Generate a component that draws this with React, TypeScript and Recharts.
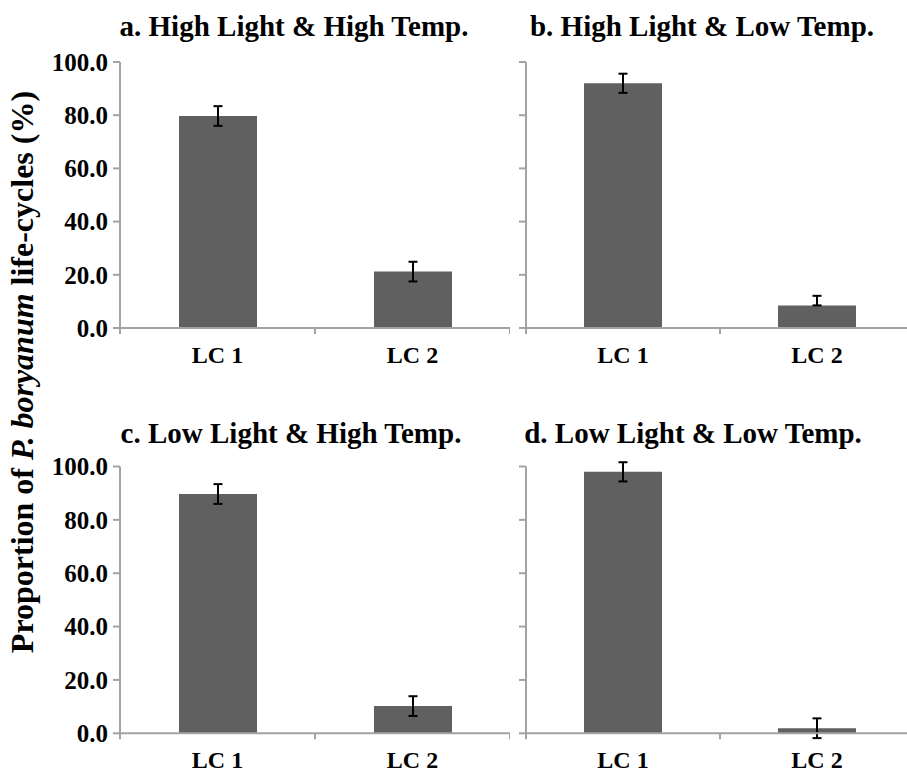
import { BarChart, Bar, XAxis, YAxis, ErrorBar } from "recharts";

const categories = ["LC 1", "LC 2"];
const yTicks = [0, 20, 40, 60, 80, 100];

const titles = [
  "a. High Light & High Temp.",
  "b. High Light & Low Temp.",
  "c. Low Light & High Temp.",
  "d. Low Light & Low Temp.",
];

// mittelwerte (%) je Lebenszyklus
const meanA = [79.7, 21.2];
const meanB = [92.0, 8.5];
const meanC = [89.7, 10.2];
const meanD = [98.0, 1.9];

// fehlerbalken; bei b/LC 2 ist nur der obere Teil zu sehen
const errA = [3.7, 3.7];
const errB: Array<number | number[]> = [3.6, [0, 3.6]];
const errC = [3.7, 3.7];
const errD = [3.6, 3.7];

const FONT = "'Liberation Serif', 'Times New Roman', serif";
const AXIS = "#a3a3a3";
const BAR = "#606060";

const rows = (means: number[], errs: Array<number | number[]>) =>
  categories.map((c, i) => ({ name: c, value: means[i], err: errs[i] }));

function BandTick(props: any) {
  const { x, y, payload, index, halfBand, count } = props;
  return (
    <g>
      <line x1={x - halfBand} y1={y} x2={x - halfBand} y2={y + 6} stroke={AXIS} strokeWidth={2} />
      {index === count - 1 && (
        <line x1={x + halfBand} y1={y} x2={x + halfBand} y2={y + 6} stroke={AXIS} strokeWidth={2} />
      )}
      <text x={x} y={y + 35} textAnchor="middle" fontFamily={FONT} fontWeight="bold" fontSize={24} fill="#000">
        {payload.value}
      </text>
    </g>
  );
}

function Panel({
  data,
  left,
  top,
  width,
  height,
  plotTop,
  plotBottom,
  yWidth,
  labels,
}: {
  data: any[];
  left: number;
  top: number;
  width: number;
  height: number;
  plotTop: number;
  plotBottom: number;
  yWidth: number;
  labels: boolean;
}) {
  const plotW = width - yWidth;
  return (
    <div style={{ position: "absolute", left, top }}>
      <BarChart
        width={width}
        height={height}
        data={data}
        margin={{ top: plotTop, right: 0, bottom: 0, left: 0 }}
        barCategoryGap="30%"
      >
        <XAxis
          dataKey="name"
          height={height - plotBottom}
          axisLine={{ stroke: AXIS, strokeWidth: 2 }}
          tickLine={false}
          tickSize={0}
          tickMargin={0}
          interval={0}
          tick={<BandTick halfBand={plotW / 4} count={data.length} />}
        />
        <YAxis
          width={yWidth}
          domain={[0, 100]}
          ticks={yTicks}
          allowDataOverflow
          interval={0}
          axisLine={{ stroke: AXIS, strokeWidth: 2 }}
          tickLine={{ stroke: AXIS, strokeWidth: 2 }}
          tickSize={7}
          tickMargin={5}
          tickFormatter={(v: number) => (labels ? v.toFixed(1) : "")}
          tick={{ fill: "#000", fontFamily: FONT, fontWeight: "bold", fontSize: 25 }}
        />
        <Bar dataKey="value" fill={BAR} barSize={78} isAnimationActive={false}>
          <ErrorBar dataKey="err" width={4.5} stroke="#000" strokeWidth={2} direction="y" />
        </Bar>
      </BarChart>
    </div>
  );
}

export default function App() {
  return (
    <div
      style={{
        position: "absolute",
        left: 0,
        top: 0,
        width: 907,
        height: 774,
        overflow: "hidden",
        background: "#fff",
      }}
    >
      <Panel data={rows(meanA, errA)} left={0} top={0} width={510} height={390} plotTop={62} plotBottom={328} yWidth={120} labels />
      <Panel data={rows(meanB, errB)} left={506} top={0} width={408} height={390} plotTop={62} plotBottom={328} yWidth={20} labels={false} />
      <Panel data={rows(meanC, errC)} left={0} top={400} width={510} height={374} plotTop={66.5} plotBottom={333.3} yWidth={120} labels />
      <Panel data={rows(meanD, errD)} left={506} top={400} width={408} height={374} plotTop={66.5} plotBottom={333.3} yWidth={20} labels={false} />

      <svg
        width={907}
        height={774}
        style={{ position: "absolute", left: 0, top: 0, pointerEvents: "none" }}
        fontFamily={FONT}
        fontWeight="bold"
      >
        <text x={294} y={36} textAnchor="middle" fontSize={29}>{titles[0]}</text>
        <text x={702} y={36} textAnchor="middle" fontSize={29}>{titles[1]}</text>
        <text x={291} y={443} textAnchor="middle" fontSize={29}>{titles[2]}</text>
        <text x={693} y={443} textAnchor="middle" fontSize={29}>{titles[3]}</text>
        <text x={33} y={372} textAnchor="middle" fontSize={32} transform="rotate(-90 33 372)">
          Proportion of <tspan fontStyle="italic">P. boryanum</tspan> life-cycles (%)
        </text>
      </svg>
    </div>
  );
}
